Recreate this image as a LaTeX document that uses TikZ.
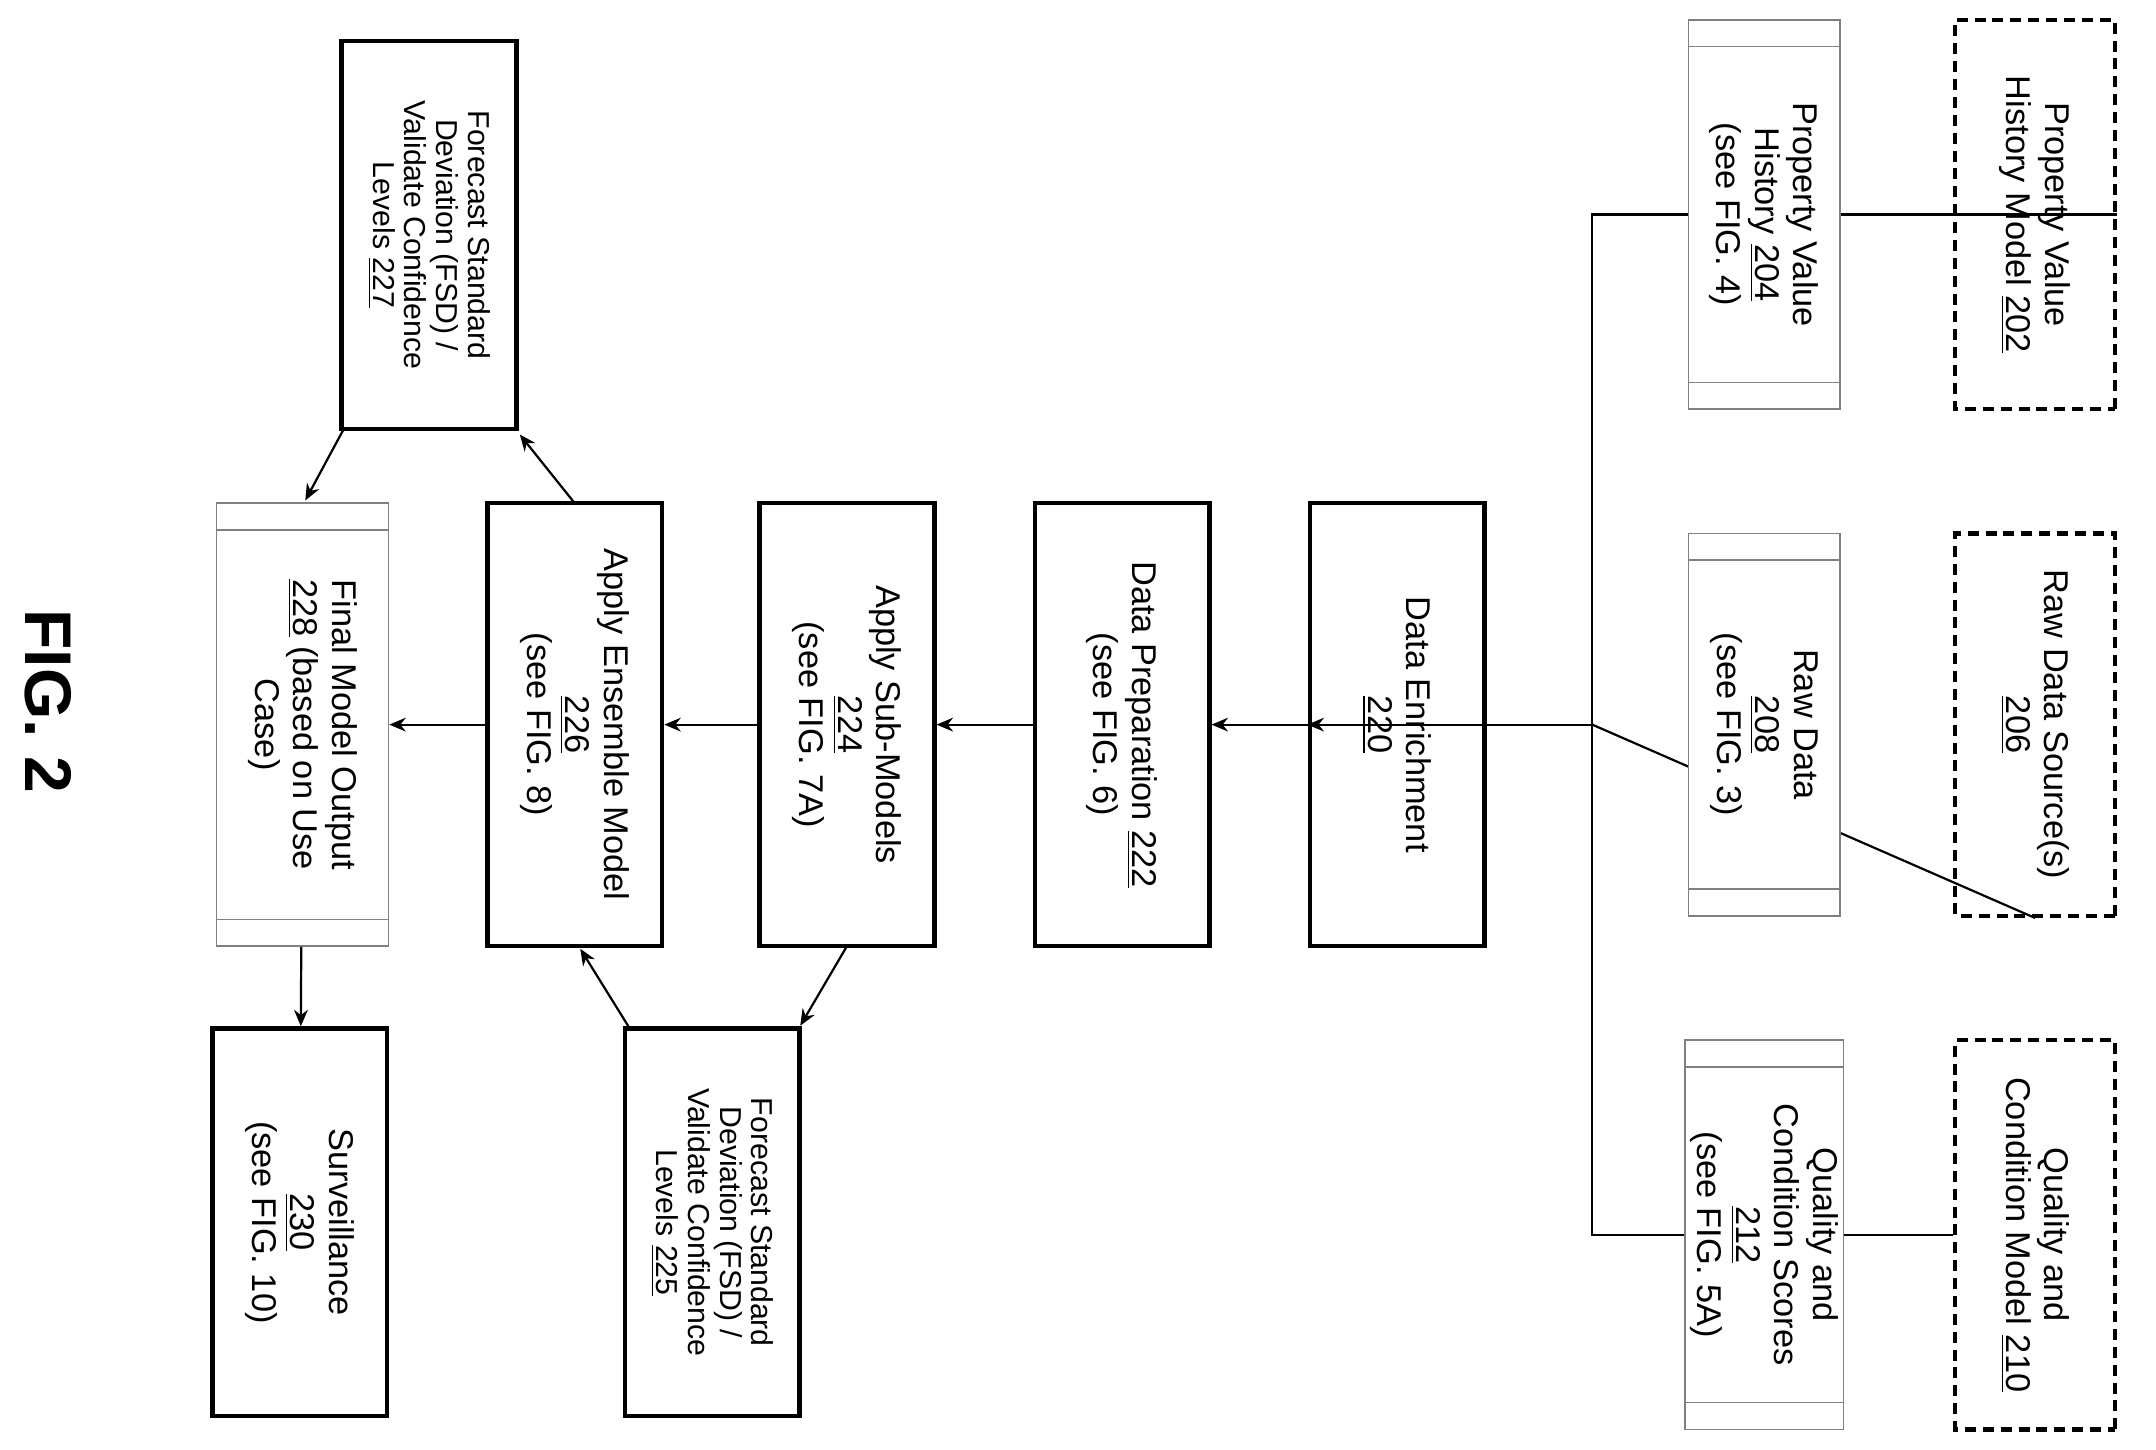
\documentclass[tikz,border=0pt]{standalone}
\usepackage{fontspec}
\setmainfont{Liberation Sans}
\usetikzlibrary{calc,arrows.meta}
\tikzset{
  blk/.style={draw, line width=1.6pt, rotate=-90, align=center, inner sep=2pt,
    font=\fontsize{12.5}{14}\selectfont},
  dsh/.style={blk, dashed, dash pattern=on 4pt off 2.5pt},
  thn/.style={blk, draw=gray, line width=0.6pt},
  fsd/.style={blk, font=\fontsize{11}{11.5}\selectfont},
  arr/.style={-{Stealth[length=6pt,width=5pt]}, line width=0.8pt}
}
\newcommand{\bars}[1]{%
  \draw[gray, line width=0.6pt] ($(#1.north west)!10pt!(#1.north east)$) -- ($(#1.south west)!10pt!(#1.south east)$);
  \draw[gray, line width=0.6pt] ($(#1.north east)!10pt!(#1.north west)$) -- ($(#1.south east)!10pt!(#1.south west)$);}
\begin{document}
\begin{tikzpicture}[x=0.5pt,y=0.5pt]
\useasboundingbox (0,0) rectangle (1568,-1054);

% Sources
\node[dsh, minimum width=141.5pt, minimum height=58pt] (pvhm) at (1480,-156) {Property Value\\History Model \underline{202}};
\node[dsh, minimum width=139pt, minimum height=58pt] (rds) at (1480,-527) {Raw Data Source(s)\\\underline{206}};
\node[dsh, minimum width=141.5pt, minimum height=58pt] (qcm) at (1480,-898) {Quality and\\Condition Model \underline{210}};

% Bus
\coordinate (bt) at (1158,-156);
\coordinate (bm) at (1158,-527);
\coordinate (bb) at (1158,-898);
\draw[line width=0.8pt] (pvhm.north) -- (bt) -- (bb) -- (qcm.south);
\draw[line width=0.8pt] (rds.east) -- (bm);

% Intermediate data
\node[thn, fill=white, minimum width=141.5pt, minimum height=55pt] (pvh) at (1283,-156) {Property Value\\History \underline{204}\\(see FIG. 4)};
\node[thn, fill=white, minimum width=139pt, minimum height=55pt] (raw) at (1283,-527) {Raw Data\\\underline{208}\\(see FIG. 3)};
\node[thn, fill=white, minimum width=141.5pt, minimum height=55pt] (qcs) at (1283,-898) {Quality and\\Condition Scores\\\underline{212}\\(see FIG. 5A)};
\bars{pvh} \bars{raw} \bars{qcs}

% Main flow
\node[blk, minimum width=161pt, minimum height=63.5pt] (enr) at (1016,-527) {Data Enrichment\\\underline{220}};
\node[blk, minimum width=161pt, minimum height=63.5pt] (prep) at (816,-527) {Data Preparation \underline{222}\\(see FIG. 6)};
\node[blk, minimum width=161pt, minimum height=63.5pt] (sub) at (616,-527) {Apply Sub-Models\\\underline{224}\\(see FIG. 7A)};
\node[blk, minimum width=161pt, minimum height=63.5pt] (ens) at (418,-527) {Apply Ensemble Model\\\underline{226}\\(see FIG. 8)};
\node[thn, minimum width=161pt, minimum height=62.5pt] (out) at (220,-527) {Final Model Output\\\underline{228} (based on Use\\Case)};
\bars{out}
\node[fsd, minimum width=141pt, minimum height=63.5pt] (fsdb) at (518,-889) {Forecast Standard\\Deviation (FSD) /\\Validate Confidence\\Levels \underline{225}};
\node[fsd, minimum width=141pt, minimum height=63.5pt] (fsda) at (312,-171) {Forecast Standard\\Deviation (FSD) /\\Validate Confidence\\Levels \underline{227}};
\node[blk, minimum width=141pt, minimum height=63.5pt] (surv) at (218,-889) {Surveillance\\\underline{230}\\(see FIG. 10)};

\node[rotate=-90, font=\bfseries\fontsize{24}{26}\selectfont] (fig) at (35,-510) {FIG. 2};

% Connectors
\draw[arr] (bm) -- (enr.south);
\draw[arr] (enr) -- (prep);
\draw[arr] (prep) -- (sub);
\draw[arr] (sub) -- (ens);
\draw[arr] (ens) -- (out);
\draw[arr] (out) -- (surv);
\draw[arr] (418,-366) -- (378,-316);
\draw[arr] (250,-312) -- (222,-364);
\draw[arr] (616,-688) -- (582,-746);
\draw[arr] (458,-748) -- (422,-690);
\end{tikzpicture}
\end{document}
